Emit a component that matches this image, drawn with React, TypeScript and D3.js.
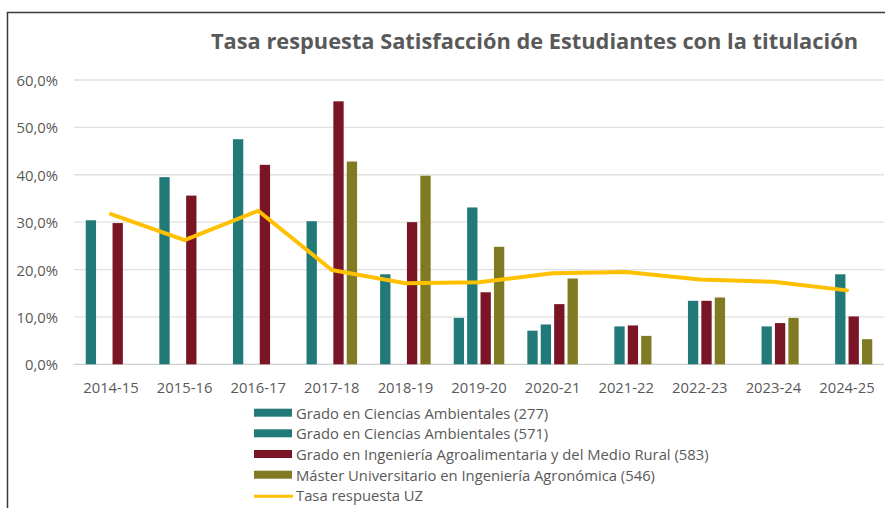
import * as d3 from "d3";

const categories = ["2014-15", "2015-16", "2016-17", "2017-18", "2018-19", "2019-20", "2020-21", "2021-22", "2022-23", "2023-24", "2024-25"];

const ciencias277 = [30.4, 39.5, 47.5, 30.2, 19.0, 9.8, 7.1, null, null, null, null];
const ciencias571 = [null, null, null, null, null, 33.1, 8.4, 8.0, 13.4, 8.0, 19.0];
const ingenieria583 = [29.8, 35.6, 42.1, 55.5, 30.0, 15.2, 12.7, 8.2, 13.4, 8.7, 10.1];
const master546 = [null, null, null, 42.8, 39.8, 24.8, 18.1, 6.0, 14.1, 9.8, 5.3];
const tasaUZ = [31.7, 26.2, 32.4, 19.9, 17.1, 17.3, 19.2, 19.5, 17.9, 17.4, 15.6];

const yTicks = [0, 10, 20, 30, 40, 50, 60];

const seriesNames = [
  "Grado en Ciencias Ambientales (277)",
  "Grado en Ciencias Ambientales (571)",
  "Grado en Ingeniería Agroalimentaria y del Medio Rural (583)",
  "Máster Universitario en Ingeniería Agronómica (546)",
];
const lineName = "Tasa respuesta UZ";

const barColors = ["#217A77", "#217A77", "#7A1526", "#807A22"];
const lineColor = "#FFC000";
const textColor = "#595959";
const font = "'Open Sans', sans-serif";
const fs = 14.8;

export default function App() {
  const width = 885;
  const height = 508;
  const barSeries = [ciencias277, ciencias571, ingenieria583, master546];

  const x = d3.scaleBand<string>().domain(categories).range([74.2, 883.8]);
  const xs = d3
    .scaleBand<number>()
    .domain([0, 1, 2, 3])
    .range([0, x.bandwidth()])
    .paddingInner(0.23)
    .paddingOuter(0.86);
  const y = d3.scaleLinear().domain([0, 60]).range([364.3, 80]);

  const line = d3
    .line<number>()
    .x((_, i) => (x(categories[i]) ?? 0) + x.bandwidth() / 2)
    .y((d) => y(d));

  const fmt = (v: number) => v.toFixed(1).replace(".", ",") + "%";

  const legendY = [412.7, 433.3, 454, 474.7, 495.3];

  return (
    <svg
      width={width}
      height={height}
      style={{ position: "absolute", left: 0, top: 0, display: "block", background: "#fff" }}
    >
      {/* frame */}
      <path d={`M7.5,${height}V12.5H${width}`} fill="none" stroke="#3a3a3a" strokeWidth={1.5} />

      <text x={211} y={49} fill={textColor} fontFamily={font} fontWeight={700} fontSize={21.8}>
        Tasa respuesta Satisfacción de Estudiantes con la titulación
      </text>

      {/* grid + y labels */}
      {yTicks.map((t) => (
        <g key={t}>
          <line x1={74} x2={884} y1={y(t)} y2={y(t)} stroke={t === 0 ? "#CFCFCF" : "#E0E0E0"} strokeWidth={1.3} />
          <text
            x={58}
            y={y(t)}
            textAnchor="end"
            dominantBaseline="central"
            fill={textColor}
            fontFamily={font}
            fontSize={fs}
          >
            {fmt(t)}
          </text>
        </g>
      ))}

      {/* bars */}
      {barSeries.map((vals, s) =>
        vals.map((v, i) =>
          v == null ? null : (
            <rect
              key={`${s}-${i}`}
              x={(x(categories[i]) ?? 0) + (xs(s) ?? 0)}
              y={y(v)}
              width={xs.bandwidth()}
              height={y(0) - y(v)}
              fill={barColors[s]}
            />
          )
        )
      )}

      {/* line */}
      <path
        d={line(tasaUZ) ?? ""}
        fill="none"
        stroke={lineColor}
        strokeWidth={4}
        strokeLinejoin="round"
        strokeLinecap="round"
      />

      {/* x labels */}
      {categories.map((c) => (
        <text
          key={c}
          x={(x(c) ?? 0) + x.bandwidth() / 2}
          y={392.5}
          textAnchor="middle"
          fill={textColor}
          fontFamily={font}
          fontSize={fs}
        >
          {c}
        </text>
      ))}

      {/* legend */}
      {seriesNames.map((name, i) => (
        <g key={name}>
          <rect x={254} y={legendY[i] - 4} width={38} height={8} fill={barColors[i]} />
          <text x={296} y={legendY[i]} dominantBaseline="central" fill={textColor} fontFamily={font} fontSize={fs}>
            {name}
          </text>
        </g>
      ))}
      <line x1={254} x2={293} y1={legendY[4] + 1} y2={legendY[4] + 1} stroke={lineColor} strokeWidth={3} />
      <text x={296} y={legendY[4]} dominantBaseline="central" fill={textColor} fontFamily={font} fontSize={fs}>
        {lineName}
      </text>
    </svg>
  );
}
